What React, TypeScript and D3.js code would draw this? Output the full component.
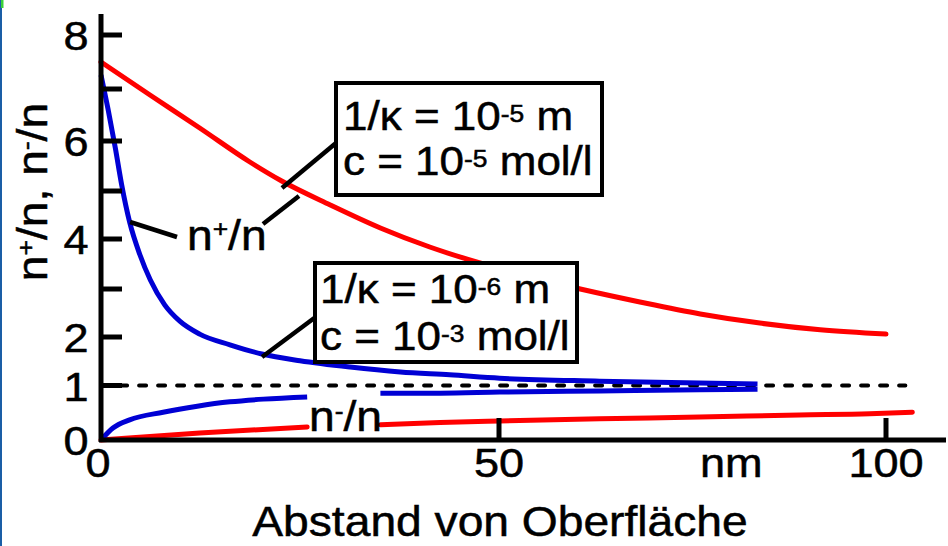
import React from "react";
import * as d3 from "d3";

const W = 948;
const H = 546;

// ---- data (distance in nm, concentration ratio) ----
// 1/κ = 10^-5 m (red): n+/n and n-/n
const redPlusNm = [0, 6.2, 12.4, 18.7, 22.7, 28.8, 35.1, 41.3, 47.6, 54.0, 60.5, 68.2, 76.0, 83.7, 91.5, 100];
const redPlusRatio = [7.5, 6.88, 6.25, 5.58, 5.2, 4.71, 4.23, 3.84, 3.52, 3.24, 3.0, 2.73, 2.48, 2.29, 2.15, 2.06];

const redMinusNm = [0, 12.4, 25.9, 30, 35.1, 42.6, 50.1, 63.0, 75.9, 88.8, 97.9, 103.4];
const redMinusRatio: (number | null)[] = [0, 0.13, 0.24, null, 0.28, 0.32, 0.35, 0.39, 0.42, 0.46, 0.48, 0.51];

// 1/κ = 10^-6 m (blue): n+/n and n-/n
const bluePlusNm = [0, 0.9, 1.8, 2.6, 3.6, 4.9, 6.2, 8.0, 9.9, 12.4, 16.2, 20.2, 25.0, 31.3, 37.6, 43.8, 50.1, 63.0, 75.9, 83.4];
const bluePlusRatio = [7.26, 6.6, 5.86, 5.12, 4.35, 3.68, 3.18, 2.67, 2.33, 2.06, 1.84, 1.65, 1.51, 1.38, 1.28, 1.22, 1.15, 1.09, 1.05, 1.03];

const blueMinusNm = [0, 1.5, 3.6, 7.8, 12.1, 16.2, 20.4, 25.9, 30, 35.1, 42.6, 50.1, 63.0, 75.9, 83.4];
const blueMinusRatio: (number | null)[] = [0, 0.22, 0.37, 0.51, 0.62, 0.7, 0.75, 0.79, null, 0.86, 0.86, 0.88, 0.9, 0.92, 0.93];

// reference level n/n = 1
const refLevel = 1;
const refRangeNm = [2.4, 102.5];

// ticks
const yTickValues = [0, 1, 2, 3, 4, 5, 6, 7, 8];
const yTickLabels = [0, 1, 2, 4, 6, 8];
const xTickValues = [50, 100];
const xTickLabels = [0, 50, 100];
const xUnitLabel = "nm";
const xUnitAt = 80;

const xTitle = "Abstand von Oberfläche";

// ---- layout ----
const FONT = "'Liberation Sans', Arial, Helvetica, sans-serif";
const SX = 1.1; // horizontal stretch of the original lettering
const RED = "#ff0000";
const BLUE = "#0000d4";

// hand-drawn axes: tick positions are not perfectly even
const x = d3.scaleLinear().domain([0, 50, 100]).range([101, 499, 886]);
const y = d3
  .scaleLinear()
  .domain(yTickValues)
  .range([440, 385.5, 337, 289, 239, 191, 141, 89, 35]);

type Pt = [number, number | null];
const zip = (xs: number[], ys: (number | null)[]): Pt[] => xs.map((v, i) => [v, ys[i]]);

const line = d3
  .line<Pt>()
  .defined((d) => d[1] != null)
  .x((d) => x(d[0]))
  .y((d) => y(d[1] as number))
  .curve(d3.curveMonotoneX);

type Seg = { t: string; sup?: boolean };

function T(props: {
  x: number;
  y: number;
  size: number;
  anchor?: string;
  rotate?: number;
  segs: Seg[];
  supSize?: number;
  up?: number;
}) {
  const { x: tx, y: ty, size, anchor = "start", rotate = 0, segs, supSize = 24, up = 10 } = props;
  let prevSup = false;
  return (
    <text
      transform={`translate(${tx},${ty}) rotate(${rotate}) scale(${SX},1)`}
      fontSize={size}
      fontFamily={FONT}
      textAnchor={anchor}
      fill="#000"
      stroke="#000"
      strokeWidth={0.5}
    >
      {segs.map((s, i) => {
        let dy = 0;
        if (s.sup && !prevSup) dy = -up;
        if (!s.sup && prevSup) dy = up;
        prevSup = !!s.sup;
        return (
          <tspan key={i} dy={dy || undefined} fontSize={s.sup ? supSize : undefined}>
            {s.t}
          </tspan>
        );
      })}
    </text>
  );
}

export default function App() {
  const axisW = 5;
  const curveW = 5;
  const boxes = [
    { x0: 336, y0: 83, x1: 602, y1: 195, tx: 343, b1: 130, b2: 175, e1: "-5", e2: "-5" },
    { x0: 315, y0: 263, x1: 577, y1: 362, tx: 320, b1: 303, b2: 350, e1: "-6", e2: "-3" },
  ];
  const connectors = [
    [336, 143, 282, 188],
    [263, 224, 299, 196],
    [130, 222, 177, 237],
    [317, 316, 262, 357],
  ];
  return (
    <svg
      width={W}
      height={H}
      viewBox={`0 0 ${W} ${H}`}
      style={{ position: "absolute", left: 0, top: 0, background: "#fff" }}
    >
      <rect x={0} y={0} width={W} height={H} fill="#fff" />
      <rect x={0} y={0} width={2} height={H} fill="#1a5ea6" />
      <rect x={1} y={0} width={2.5} height={8} fill="#3ad13a" />

      {/* reference line n/n = 1 */}
      <line
        x1={x(refRangeNm[0])}
        x2={x(refRangeNm[1])}
        y1={y(refLevel)}
        y2={y(refLevel)}
        stroke="#000"
        strokeWidth={4}
        strokeDasharray="7,12"
        strokeLinecap="round"
      />

      {/* curves */}
      <path d={line(zip(redPlusNm, redPlusRatio)) || ""} fill="none" stroke={RED} strokeWidth={curveW} strokeLinecap="round" />
      <path d={line(zip(redMinusNm, redMinusRatio)) || ""} fill="none" stroke={RED} strokeWidth={curveW} strokeLinecap="round" />
      <path d={line(zip(bluePlusNm, bluePlusRatio)) || ""} fill="none" stroke={BLUE} strokeWidth={curveW} />
      <path d={line(zip(blueMinusNm, blueMinusRatio)) || ""} fill="none" stroke={BLUE} strokeWidth={curveW} />

      {/* axes */}
      <line x1={x(0)} x2={x(0)} y1={14} y2={y(0) + 2} stroke="#000" strokeWidth={axisW} />
      <line x1={x(0) - 2} x2={946} y1={y(0)} y2={y(0)} stroke="#000" strokeWidth={axisW} />
      {yTickValues.slice(1).map((v) => (
        <line key={"yt" + v} x1={x(0)} x2={x(0) + 21} y1={y(v)} y2={y(v)} stroke="#000" strokeWidth={5} />
      ))}
      {xTickValues.map((v) => (
        <line key={"xt" + v} x1={x(v)} x2={x(v)} y1={y(0)} y2={y(0) - 22} stroke="#000" strokeWidth={5} />
      ))}

      {/* tick labels */}
      {yTickLabels.map((v) => (
        <T key={"yl" + v} x={76} y={y(v) + 15} size={41} anchor="middle" segs={[{ t: String(v) }]} />
      ))}
      {xTickLabels.map((v) => (
        <T key={"xl" + v} x={x(v) - (v === 0 ? 3 : 0)} y={477} size={41} anchor="middle" segs={[{ t: String(v) }]} />
      ))}
      <T x={x(xUnitAt)} y={477} size={41} anchor="middle" segs={[{ t: xUnitLabel }]} />

      {/* axis titles */}
      <T x={500} y={536} size={42} anchor="middle" segs={[{ t: xTitle }]} />
      <T
        x={47}
        y={192}
        size={42}
        anchor="middle"
        rotate={-90}
        up={13}
        segs={[
          { t: "n" },
          { t: "+", sup: true },
          { t: "/n, n" },
          { t: "-", sup: true },
          { t: "/n" },
        ]}
      />

      {/* connectors */}
      {connectors.map((c, i) => (
        <line key={"c" + i} x1={c[0]} y1={c[1]} x2={c[2]} y2={c[3]} stroke="#000" strokeWidth={4.5} />
      ))}

      {/* curve labels */}
      <T x={187} y={250} size={42} up={13} segs={[{ t: "n" }, { t: "+", sup: true }, { t: "/n" }]} />
      <T x={309} y={431} size={42} up={12} segs={[{ t: "n" }, { t: "-", sup: true }, { t: "/n" }]} />

      {/* parameter boxes */}
      {boxes.map((b, i) => (
        <g key={"b" + i}>
          <rect x={b.x0} y={b.y0} width={b.x1 - b.x0} height={b.y1 - b.y0} fill="#fff" stroke="#000" strokeWidth={4} />
          <T x={b.tx} y={b.b1} size={40} up={8} segs={[{ t: "1/κ = 10" }, { t: b.e1, sup: true }, { t: " m" }]} />
          <T x={b.tx} y={b.b2} size={40} up={8} segs={[{ t: "c = 10" }, { t: b.e2, sup: true }, { t: " mol/l" }]} />
        </g>
      ))}
    </svg>
  );
}
